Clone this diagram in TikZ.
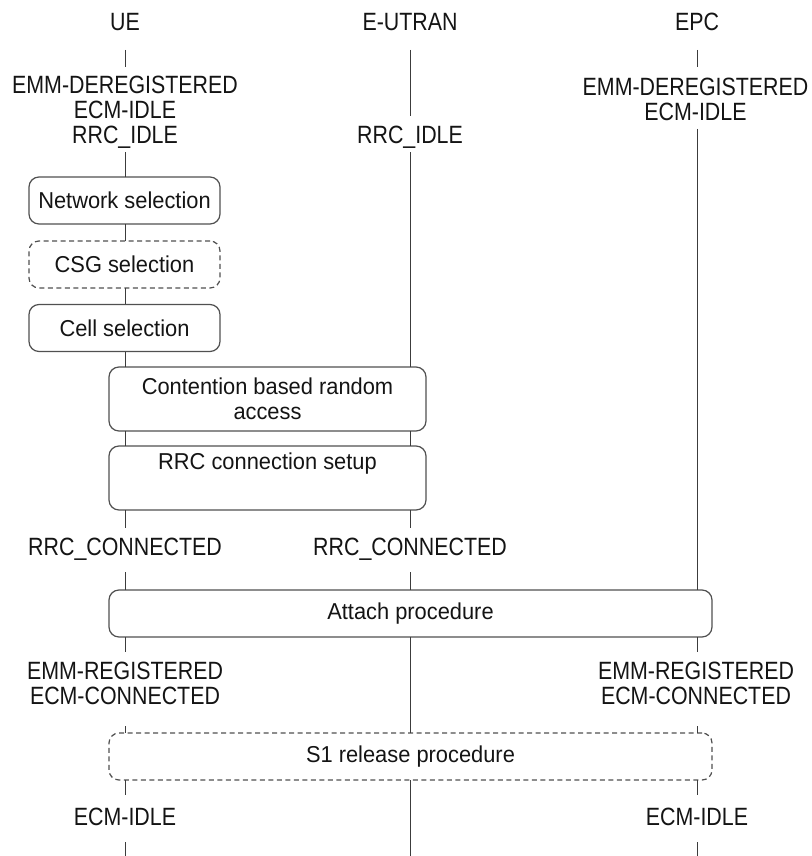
\documentclass[tikz,border=0pt]{standalone}
\usepackage{fontspec}
\setmainfont{Liberation Sans}
\newfontfamily\statefont[FakeStretch=0.855]{Liberation Sans}
\newfontfamily\boxfont[FakeStretch=0.95]{Liberation Sans}
\definecolor{txt}{HTML}{141414}
\definecolor{edge}{HTML}{505050}
\definecolor{lifegray}{HTML}{3C3C3C}
\tikzset{
  statelbl/.style={font=\statefont\fontsize{25}{25}\selectfont, text=txt, align=center, inner sep=0pt},
  proc/.style={draw=edge, line width=1.2pt, rounded corners=10pt, inner sep=0pt,
               font=\boxfont\fontsize{23}{25.5}\selectfont, text=txt, align=center},
  optproc/.style={proc, dash pattern=on 5pt off 3.5pt},
  life/.style={draw=lifegray, line width=1pt}
}
\begin{document}
\begin{tikzpicture}[x=1pt, y=-1pt]
  \useasboundingbox (0,0) rectangle (811,856);

  % entity headers
  \node[statelbl] (ue)   at (125,22) {UE};
  \node[statelbl] (eut)  at (410,22) {E-UTRAN};
  \node[statelbl] (epc)  at (697,22) {EPC};

  % initial states
  \node[statelbl] (ueinit)  at (125,112) {EMM-DEREGISTERED\\ECM-IDLE\\RRC\_IDLE};
  \node[statelbl] (eutinit) at (410,137) {RRC\_IDLE};
  \node[statelbl] (epcinit) at (695.5,99.5) {EMM-DEREGISTERED\\ECM-IDLE};

  % UE-side selection procedures
  \node[proc, minimum width=191pt, minimum height=47pt] (netsel) at (124.5,200.5) {Network selection};
  \node[optproc, minimum width=191pt, minimum height=47pt] (csgsel) at (124.5,264.5) {CSG selection};
  \node[proc, minimum width=191pt, minimum height=47pt] (cellsel) at (124.5,328) {Cell selection};

  % UE / E-UTRAN procedures
  \node[proc, minimum width=317pt, minimum height=64pt] (rach) at (267.5,399) {Contention based random\\access};
  \node[proc, minimum width=317pt, minimum height=64pt] (rrcsetup) at (267.5,478) {RRC connection setup\\\strut};

  % connected states
  \node[statelbl] (ueconn)  at (125,549) {RRC\_CONNECTED};
  \node[statelbl] (eutconn) at (410,549) {RRC\_CONNECTED};

  % attach
  \node[proc, minimum width=603pt, minimum height=47pt] (attach) at (410.5,613.5) {Attach procedure};

  \node[statelbl] (uereg)  at (125,683) {EMM-REGISTERED\\ECM-CONNECTED};
  \node[statelbl] (epcreg) at (696,683) {EMM-REGISTERED\\ECM-CONNECTED};

  % S1 release
  \node[optproc, minimum width=603pt, minimum height=47pt] (s1rel) at (410.5,756.5) {S1 release procedure};

  \node[statelbl] (ueidle)  at (125,817) {ECM-IDLE};
  \node[statelbl] (epcidle) at (697,817) {ECM-IDLE};

  % lifeline segments
  \foreach \a/\b in {50/67,152/177,224/241,288/304,352/367,431/446,510/528,572/590,637/652,726/733,780/795,842/856}
    \draw[life] (125,\a) -- (125,\b);
  \foreach \a/\b in {50/116,152/367,431/446,510/528,572/590,637/733,780/856}
    \draw[life] (410,\a) -- (410,\b);
  \foreach \a/\b in {50/67,129/590,637/652,726/733,780/795,842/856}
    \draw[life] (697,\a) -- (697,\b);
\end{tikzpicture}
\end{document}
